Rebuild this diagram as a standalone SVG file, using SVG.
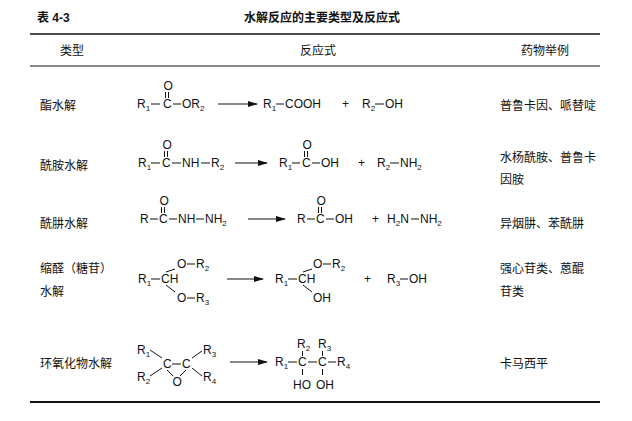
<svg xmlns="http://www.w3.org/2000/svg" width="632" height="421" viewBox="0 0 632 421">
<style>
.t{font-family:"Liberation Sans","Noto Sans CJK SC",sans-serif;font-size:12px;fill:#111}
.h{font-weight:bold}
.c{font-family:"Liberation Sans",sans-serif;font-size:12px;fill:#111}
.s{font-size:8px}
.b{stroke:#111;stroke-width:1;fill:none}
</style>
<defs><marker id="ar" markerWidth="10" markerHeight="6" refX="9" refY="3" orient="auto" markerUnits="userSpaceOnUse"><path d="M0,0 L10,3 L0,6 Z" fill="#111"/></marker></defs>
<rect width="632" height="421" fill="#fff"/>
<g id="table">
<text class="t h" x="37" y="22">表 4-3</text>
<text class="t h" x="322" y="22" text-anchor="middle">水解反应的主要类型及反应式</text>
<line x1="30" y1="34" x2="600" y2="34" stroke="#111" stroke-width="1.5"/>
<text class="t" x="72" y="55" text-anchor="middle">类型</text>
<text class="t" x="318" y="55" text-anchor="middle">反应式</text>
<text class="t" x="545" y="55" text-anchor="middle">药物举例</text>
<line x1="30" y1="66" x2="600" y2="66" stroke="#111" stroke-width="1"/>
<line x1="30" y1="402" x2="600" y2="402" stroke="#111" stroke-width="2"/>
</g>
<g id="row1">
<text class="t" x="40" y="110">酯水解</text>
<text class="t" x="500" y="110">普鲁卡因、哌替啶</text>
<text class="c" x="137" y="108">R<tspan class="s" dy="3">1</tspan></text>
<text class="c" x="163" y="108">C</text>
<text class="c" x="163.5" y="90">O</text>
<text class="c" x="182" y="108">OR<tspan class="s" dy="3">2</tspan></text>
<text class="c" x="263" y="108">R<tspan class="s" dy="3">1</tspan></text>
<text class="c" x="285" y="108">COOH</text>
<text class="c" x="342" y="108">+</text>
<text class="c" x="362" y="108">R<tspan class="s" dy="3">2</tspan></text>
<text class="c" x="385" y="108">OH</text>
<path class="b" d="M151,104h9M165.5,92v6M168.5,92v6M173,104h8M276,104h8M375,104h9"/>
</g>
<g id="row2">
<text class="t" x="40" y="170">酰胺水解</text>
<text class="t" x="500" y="162">水杨酰胺、普鲁卡</text>
<text class="t" x="500" y="184">因胺</text>
<text class="c" x="138" y="167">R<tspan class="s" dy="3">1</tspan></text>
<text class="c" x="162" y="167">C</text>
<text class="c" x="162.5" y="149">O</text>
<text class="c" x="182" y="167">NH</text>
<text class="c" x="211" y="167">R<tspan class="s" dy="3">2</tspan></text>
<text class="c" x="279" y="167">R<tspan class="s" dy="3">1</tspan></text>
<text class="c" x="302" y="167">C</text>
<text class="c" x="302.5" y="149">O</text>
<text class="c" x="321" y="167">OH</text>
<text class="c" x="358" y="167">+</text>
<text class="c" x="377" y="167">R<tspan class="s" dy="3">2</tspan></text>
<text class="c" x="400" y="167">NH<tspan class="s" dy="3">2</tspan></text>
<path class="b" d="M151,163h9M164.5,151v6M167.5,151v6M172,163h9M201,163h9M292,163h8M304.5,151v6M307.5,151v6M312,163h8M390,163h9"/>
</g>
<g id="row3">
<text class="t" x="40" y="228">酰肼水解</text>
<text class="t" x="500" y="228">异烟肼、苯酰肼</text>
<text class="c" x="140" y="223">R</text>
<text class="c" x="159" y="223">C</text>
<text class="c" x="159.5" y="205">O</text>
<text class="c" x="178" y="223">NH</text>
<text class="c" x="205" y="223">NH<tspan class="s" dy="3">2</tspan></text>
<text class="c" x="297" y="223">R</text>
<text class="c" x="316" y="223">C</text>
<text class="c" x="316.5" y="205">O</text>
<text class="c" x="335" y="223">OH</text>
<text class="c" x="372" y="223">+</text>
<text class="c" x="387" y="223">H<tspan class="s" dy="3">2</tspan><tspan dy="-3">N</tspan></text>
<text class="c" x="420" y="223">NH<tspan class="s" dy="3">2</tspan></text>
<path class="b" d="M150,219h8M161.5,207v6M164.5,207v6M169,219h8M196,219h8M307,219h8M318.5,207v6M321.5,207v6M326,219h8M411,219h8"/>
</g>
<g id="row4">
<text class="t" x="40" y="273">缩醛（糖苷）</text>
<text class="t" x="40" y="296">水解</text>
<text class="t" x="500" y="273">强心苷类、蒽醌</text>
<text class="t" x="500" y="296">苷类</text>
<text class="c" x="138" y="283">R<tspan class="s" dy="3">1</tspan></text>
<text class="c" x="161" y="283">CH</text>
<text class="c" x="177" y="268">O</text>
<text class="c" x="196" y="268">R<tspan class="s" dy="3">2</tspan></text>
<text class="c" x="177" y="302">O</text>
<text class="c" x="196" y="302">R<tspan class="s" dy="3">3</tspan></text>
<text class="c" x="275" y="283">R<tspan class="s" dy="3">1</tspan></text>
<text class="c" x="298" y="283">CH</text>
<text class="c" x="313" y="268">O</text>
<text class="c" x="332" y="268">R<tspan class="s" dy="3">2</tspan></text>
<text class="c" x="313" y="302">OH</text>
<text class="c" x="364" y="283">+</text>
<text class="c" x="387" y="283">R<tspan class="s" dy="3">3</tspan></text>
<text class="c" x="409" y="283">OH</text>
<path class="b" d="M151,279h9M166,272l9,-3M166,285l9,7M187,264h8M187,298h8M288,279h9M303,272l9,-3M303,285l9,7M323,264h8M400,279h8"/>
</g>
<g id="row5">
<text class="t" x="40" y="368">环氧化物水解</text>
<text class="t" x="500" y="368">卡马西平</text>
<text class="c" x="137" y="354">R<tspan class="s" dy="3">1</tspan></text>
<text class="c" x="137" y="381">R<tspan class="s" dy="3">2</tspan></text>
<text class="c" x="163" y="368">C</text>
<text class="c" x="182" y="368">C</text>
<text class="c" x="203" y="354">R<tspan class="s" dy="3">3</tspan></text>
<text class="c" x="203" y="381">R<tspan class="s" dy="3">4</tspan></text>
<text class="c" x="172.5" y="386">O</text>
<path class="b" d="M150,350l12,8M150,376l12,-8M172,364h9M192,358l10,-7M192,368l10,8M167,370l6,6M186,370l-6,6"/>
<text class="c" x="275" y="366">R<tspan class="s" dy="3">1</tspan></text>
<text class="c" x="298" y="366">C</text>
<text class="c" x="318" y="366">C</text>
<text class="c" x="337" y="366">R<tspan class="s" dy="3">4</tspan></text>
<text class="c" x="297" y="348">R<tspan class="s" dy="3">2</tspan></text>
<text class="c" x="318" y="348">R<tspan class="s" dy="3">3</tspan></text>
<text class="c" x="293" y="389">HO</text>
<text class="c" x="316" y="389">OH</text>
<path class="b" d="M288,362h9M308,362h9M328,362h8M302.5,351v5M322.5,351v5M302.5,369v6M322.5,369v6"/>
</g>
<g id="connectors">
<line class="b" x1="218" y1="104" x2="257" y2="104" marker-end="url(#ar)"/>
<line class="b" x1="235" y1="163" x2="267" y2="163" marker-end="url(#ar)"/>
<line class="b" x1="248" y1="219" x2="285" y2="219" marker-end="url(#ar)"/>
<line class="b" x1="227" y1="279" x2="263" y2="279" marker-end="url(#ar)"/>
<line class="b" x1="230" y1="362" x2="267" y2="362" marker-end="url(#ar)"/>
</g>
</svg>
